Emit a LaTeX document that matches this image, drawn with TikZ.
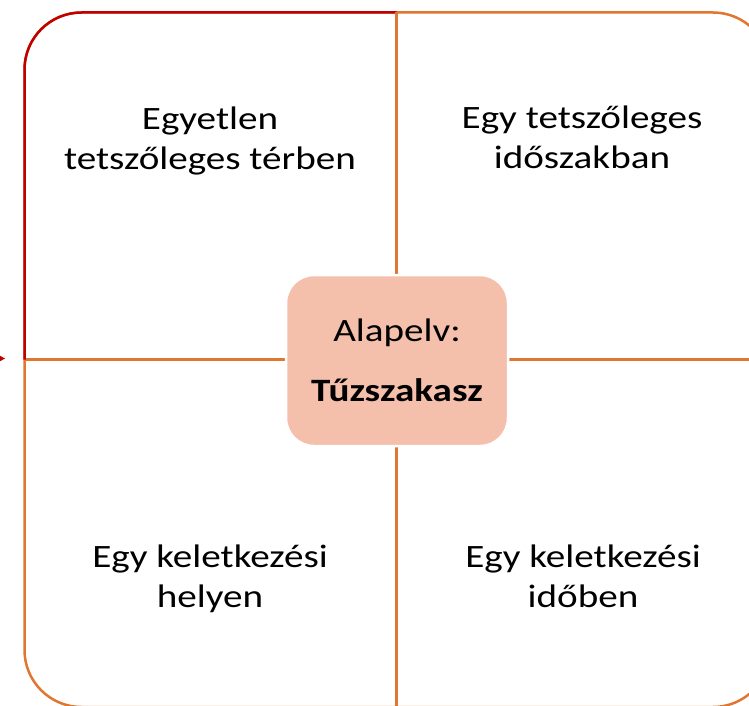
\documentclass[tikz,border=0pt]{standalone}
\usepackage{fontspec}
\setmainfont{Carlito}[FakeStretch=1.2]
\definecolor{rimred}{HTML}{C00000}
\definecolor{rimorange}{HTML}{E0762F}
\definecolor{hubfill}{HTML}{F4BFAB}
\begin{document}
\begin{tikzpicture}[x=1pt,y=-1pt,
  rim/.style={line width=2.5pt,rimorange},
  lbl/.style={align=center,anchor=base,inner sep=0pt,font=\fontsize{32.6}{40}\selectfont},
  hub/.style={fill=hubfill,draw=white,line width=2.5pt,rounded corners=28pt,
    minimum width=222pt,minimum height=171pt,align=center,font=\fontsize{32.6}{40}\selectfont}]
\useasboundingbox (0,0) rectangle (749,706);
\clip (0,0) rectangle (749,706);
\draw[rim,rounded corners=57pt] (24.5,12.5) rectangle (770,707);
\draw[rim] (396.5,12.5) -- (396.5,707);
\draw[rim] (24.5,359.5) -- (770,359.5);
\draw[rim,rimred,rounded corners=57pt] (24.5,359.5) -- (24.5,12.5) -- (396.5,12.5);
\draw[rim] (396.5,12.5) -- (396.5,40);
\fill[rimred] (-7,352) -- (5,358.5) -- (-7,365) -- cycle;
\node[lbl] (tl) at (210,169) {Egyetlen\\tetszőleges térben};
\node[lbl] (tr) at (582,168) {Egy tetszőleges\\időszakban};
\node[lbl] (bl) at (210,607) {Egy keletkezési\\helyen};
\node[lbl] (br) at (583,607) {Egy keletkezési\\időben};
\node[hub] (core) at (397,360.5) {Alapelv:\\[20pt]\textbf{Tűzszakasz}};
\end{tikzpicture}
\end{document}
